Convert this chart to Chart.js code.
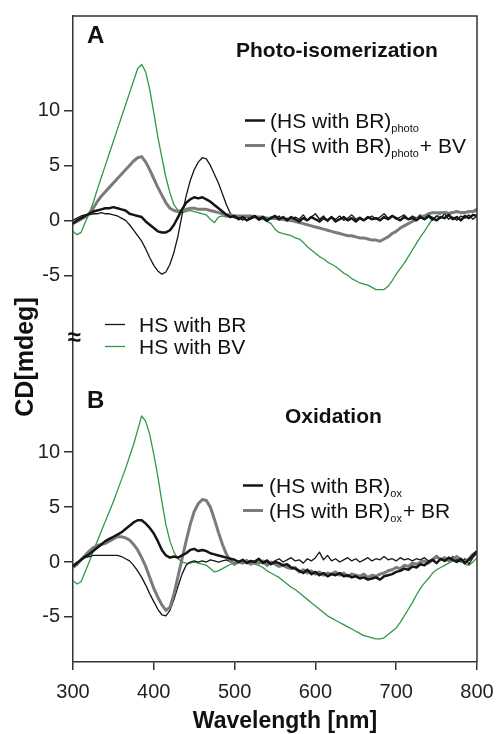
<!DOCTYPE html>
<html>
<head>
<meta charset="utf-8">
<title>CD spectra</title>
<script src="https://cdn.jsdelivr.net/npm/chart.js@4.4.0/dist/chart.umd.min.js"></script>
<style>
  html, body { margin: 0; padding: 0; background: #fff; }
  canvas { display: block; }
</style>
</head>
<body>
<canvas id="cd" width="501" height="734"></canvas>
<script>
(function () {
    "use strict";

    // Wavelength grid [nm]
    const wavelength = [
        300, 305, 310, 315, 320, 325, 330, 335, 340, 345,
        350, 355, 360, 365, 370, 375, 380, 385, 390, 395,
        400, 405, 410, 415, 420, 425, 430, 435, 440, 445,
        450, 455, 460, 465, 470, 475, 480, 485, 490, 495,
        500, 505, 510, 515, 520, 525, 530, 535, 540, 545,
        550, 555, 560, 565, 570, 575, 580, 585, 590, 595,
        600, 605, 610, 615, 620, 625, 630, 635, 640, 645,
        650, 655, 660, 665, 670, 675, 680, 685, 690, 695,
        700, 705, 710, 715, 720, 725, 730, 735, 740, 745,
        750, 755, 760, 765, 770, 775, 780, 785, 790, 795,
        800
    ];

    // Panel A - photo-isomerization
    const hsBR_A = [
        0.0, 0.2, 0.4, 0.5, 0.5, 0.6, 0.6, 0.7, 0.6, 0.6,
        0.5, 0.4, 0.2, 0.0, -0.4, -0.9, -1.4, -1.9, -2.6, -3.4,
        -4.1, -4.6, -4.9, -4.7, -4.0, -2.9, -1.4, 0.5, 2.2, 3.6,
        4.6, 5.3, 5.7, 5.6, 5.0, 4.2, 3.4, 2.4, 1.4, 0.6,
        0.2, 0.3, 0.0, 0.4, 0.1, 0.3, 0.0, 0.2, -0.1, 0.3,
        0.1, 0.4, 0.0, 0.2, -0.1, 0.3, 0.1, 0.5, 0.0, 0.3,
        0.6, 0.1, 0.4, -0.1, 0.3, 0.1, 0.4, 0.0, 0.2, 0.5,
        0.1, 0.3, 0.0, 0.2, 0.4, 0.1, 0.3, 0.6, 0.2, 0.4,
        0.1, 0.3, 0.5, 0.1, 0.4, 0.2, 0.5, 0.1, 0.3, 0.0,
        0.4, 0.2, 0.6, 0.1, 0.3, 0.0, 0.4, 0.2, 0.5, 0.1,
        0.4
    ];
    const hsBV_A = [
        -1.0, -1.3, -1.1, -0.2, 0.6, 1.6, 2.8, 3.9, 5.0, 6.1,
        7.2, 8.3, 9.4, 10.5, 11.6, 12.7, 13.8, 14.2, 13.5, 11.9,
        9.8, 7.6, 5.7, 3.9, 2.5, 1.4, 0.9, 0.7, 0.8, 0.9,
        0.8, 0.7, 0.6, 0.5, 0.1, -0.2, 0.3, 0.4, 0.3, 0.4,
        0.3, 0.4, 0.3, 0.3, 0.2, 0.3, 0.2, 0.1, -0.1, -0.3,
        -0.8, -1.1, -1.2, -1.3, -1.4, -1.6, -1.7, -2.0, -2.4, -2.7,
        -3.0, -3.3, -3.5, -3.8, -4.0, -4.2, -4.5, -4.8, -5.0, -5.3,
        -5.5, -5.7, -5.8, -5.9, -6.1, -6.3, -6.3, -6.3, -6.0, -5.5,
        -4.9, -4.4, -3.9, -3.3, -2.7, -2.1, -1.5, -1.0, -0.4, 0.1,
        0.4, 0.6, 0.8, 0.7, 0.8, 0.7, 0.8, 0.8, 0.7, 0.9,
        1.1
    ];
    const brPhoto = [
        -0.3, 0.0, 0.2, 0.4, 0.6, 0.8, 0.9, 1.0, 1.1, 1.1,
        1.2, 1.1, 1.0, 0.9, 0.6, 0.5, 0.4, 0.3, -0.1, -0.4,
        -0.7, -1.0, -1.1, -1.1, -0.9, -0.4, 0.3, 1.0, 1.6, 1.9,
        2.1, 2.0, 2.1, 1.9, 1.7, 1.4, 1.1, 0.8, 0.5, 0.3,
        0.4, 0.1, 0.3, 0.0, 0.2, 0.4, 0.1, 0.3, 0.0, 0.2,
        0.4, 0.1, 0.3, 0.0, 0.3, 0.1, -0.1, 0.2, 0.0, 0.3,
        0.1, -0.1, 0.2, 0.0, 0.3, -0.1, 0.1, 0.3, 0.0, 0.2,
        -0.1, 0.2, 0.0, 0.3, 0.1, 0.2, 0.0, 0.3, 0.1, 0.4,
        0.2, 0.0, 0.3, 0.1, 0.2, 0.0, 0.3, 0.1, 0.4, 0.2,
        0.0, 0.3, 0.2, 0.5, 0.1, 0.3, 0.0, 0.4, 0.2, 0.5,
        0.4
    ];
    const brPhotoBV = [
        -0.3, -0.1, 0.1, 0.3, 0.6, 1.1, 1.7, 2.2, 2.6, 3.0,
        3.4, 3.8, 4.2, 4.6, 5.0, 5.4, 5.7, 5.8, 5.3, 4.6,
        3.8, 3.0, 2.3, 1.6, 1.1, 0.9, 0.8, 0.9, 1.0, 1.1,
        1.1, 1.0, 1.0, 1.0, 0.9, 0.8, 0.7, 0.6, 0.5, 0.5,
        0.4, 0.4, 0.4, 0.4, 0.4, 0.3, 0.3, 0.3, 0.2, 0.2,
        0.2, 0.1, 0.1, 0.0, 0.0, -0.1, -0.2, -0.3, -0.4, -0.5,
        -0.6, -0.7, -0.8, -0.9, -1.0, -1.1, -1.2, -1.3, -1.4, -1.4,
        -1.5, -1.6, -1.6, -1.7, -1.8, -1.8, -1.9, -1.7, -1.5, -1.2,
        -1.0, -0.7, -0.5, -0.3, -0.1, 0.1, 0.3, 0.4, 0.6, 0.7,
        0.7, 0.7, 0.7, 0.6, 0.7, 0.8, 0.7, 0.7, 0.8, 0.8,
        0.9
    ];

    // Panel B - oxidation
    const hsBR_B = [
        -0.3, 0.0, 0.2, 0.4, 0.5, 0.6, 0.6, 0.6, 0.6, 0.6,
        0.6, 0.6, 0.5, 0.3, 0.1, -0.3, -0.8, -1.4, -2.1, -2.9,
        -3.6, -4.3, -4.8, -4.9, -4.4, -3.4, -2.2, -1.1, -0.3, 0.0,
        0.1, 0.0, 0.1, 0.0, 0.2, 0.1, 0.0, 0.1, 0.2, 0.0,
        -0.1, 0.1, 0.0, 0.2, -0.1, 0.1, 0.3, 0.0, 0.2, -0.1,
        0.1, 0.3, 0.0, 0.2, 0.4, 0.1, 0.2, -0.1, 0.3, 0.1,
        0.4, 0.9, 0.2, 0.6, 0.1, 0.3, 0.0, 0.2, 0.4, 0.1,
        0.3, 0.0, 0.2, 0.4, 0.1, 0.3, 0.2, 0.5, 0.2, 0.3,
        0.1, 0.4, 0.2, 0.3, 0.1, 0.3, 0.2, 0.4, 0.1, 0.3,
        0.6, 0.2, 0.4, 0.1, 0.5, 0.2, 0.0, 0.3, -0.2, 0.4,
        0.8
    ];
    const hsBV_B = [
        -1.7, -2.0, -1.8, -0.9, 0.0, 1.0, 1.9, 2.8, 3.7, 4.6,
        5.5, 6.5, 7.5, 8.5, 9.6, 10.7, 12.0, 13.3, 12.8, 11.6,
        9.8, 7.8, 5.5, 3.4, 1.9, 0.9, 0.3, 0.0, -0.1, -0.1,
        0.0, -0.1, -0.2, -0.3, -0.6, -0.9, -0.8, -0.6, -0.4, -0.2,
        -0.1, 0.0, -0.1, 0.0, -0.1, -0.2, -0.3, -0.5, -0.8, -1.0,
        -1.2, -1.4, -1.7, -2.0, -2.3, -2.5, -2.8, -3.1, -3.4, -3.7,
        -4.0, -4.3, -4.6, -4.9, -5.1, -5.3, -5.5, -5.7, -5.9, -6.1,
        -6.3, -6.5, -6.7, -6.8, -6.9, -7.0, -7.0, -6.9, -6.6, -6.3,
        -6.0, -5.5, -4.9, -4.3, -3.7, -3.0, -2.4, -1.9, -1.5, -1.0,
        -0.7, -0.5, -0.3, -0.1, 0.1, 0.2, 0.1, -0.2, -0.3, 0.0,
        0.4
    ];
    const brOx = [
        -0.4, -0.1, 0.2, 0.5, 0.7, 1.0, 1.3, 1.6, 1.9, 2.1,
        2.3, 2.5, 2.7, 3.0, 3.3, 3.6, 3.8, 3.8, 3.5, 3.1,
        2.6, 1.9, 1.1, 0.6, 0.4, 0.5, 0.4, 0.6, 0.8, 1.1,
        1.2, 1.0, 1.1, 1.0, 0.8, 0.7, 0.6, 0.5, 0.4, 0.3,
        0.2, 0.0, 0.2, -0.1, 0.1, 0.0, 0.3, -0.1, 0.1, -0.2,
        0.0, -0.1, -0.3, -0.2, -0.5, -0.6, -0.8, -1.0, -0.7, -1.1,
        -0.9, -1.2, -1.0, -1.3, -1.1, -1.2, -1.0, -1.3, -1.2, -1.4,
        -1.3, -1.5, -1.4, -1.6, -1.5, -1.4, -1.6, -1.3, -1.2, -1.1,
        -0.9, -0.8, -0.6, -0.7, -0.4, -0.5, -0.2, -0.3, 0.0, 0.2,
        -0.1, 0.3, 0.1, 0.4, 0.2, 0.0, 0.3, -0.1, 0.2, 0.6,
        1.0
    ];
    const brOxBR = [
        -0.5, -0.2, 0.2, 0.6, 1.0, 1.3, 1.5, 1.6, 1.7, 1.9,
        2.1, 2.3, 2.3, 2.2, 2.0, 1.6, 1.1, 0.4, -0.4, -1.4,
        -2.4, -3.2, -3.9, -4.4, -4.1, -2.9, -1.3, 0.3, 1.9, 3.4,
        4.6, 5.3, 5.7, 5.6, 5.0, 3.9, 2.7, 1.6, 0.7, 0.1,
        -0.2, 0.0, -0.1, 0.1, -0.2, 0.0, -0.1, 0.1, -0.3, 0.0,
        -0.2, -0.4, -0.3, -0.5, -0.6, -0.5, -0.9, -0.7, -1.0, -0.8,
        -1.1, -0.9, -1.2, -1.0, -1.1, -0.9, -1.2, -1.0, -1.3, -1.1,
        -1.2, -1.3, -1.1, -1.4, -1.2, -1.3, -1.1, -1.0, -0.8, -0.7,
        -0.5, -0.6, -0.3, -0.4, -0.1, -0.2, 0.0, 0.1, -0.1, 0.2,
        0.5, 0.2, 0.4, 0.1, 0.3, 0.5, 0.2, 0.0, 0.3, 0.7,
        0.9
    ];

    const xTicks = [300, 400, 500, 600, 700, 800];
    const yTicks = [-5, 0, 5, 10];

    const GREEN = '#2f9a45';
    const GREY = '#7b7b7b';
    const BLACK = '#151515';
    const FONT = '"Liberation Sans", Arial, sans-serif';

    const pts = (ys) => wavelength.map((x, i) => ({ x: x, y: ys[i] }));

    const line = (data, axis, color, width) => ({
        data: pts(data),
        yAxisID: axis,
        borderColor: color,
        borderWidth: width,
        pointRadius: 0,
        tension: 0,
        borderJoinStyle: 'round',
        fill: false
    });

    const yScale = (min, max, weight) => ({
        type: 'linear',
        position: 'left',
        stack: 'cd',
        stackWeight: 1,
        weight: weight,
        min: min,
        max: max,
        afterBuildTicks: (s) => { s.ticks = yTicks.map(v => ({ value: v })); },
        afterFit: (s) => { s.width = 73; },
        ticks: { font: { size: 20, family: FONT }, color: '#222', padding: 4 },
        grid: { display: true, drawOnChartArea: false, drawTicks: true, tickLength: 9, color: '#333', lineWidth: 1.5 },
        border: { display: true, color: '#333', width: 1.5 }
    });

    // text with a subscript part
    const richText = (ctx, x, y, parts) => {
        let tx = x;
        parts.forEach(p => {
            ctx.font = (p.sub ? '11px ' : '21px ') + FONT;
            ctx.fillText(p.t, tx, p.sub ? y + 4 : y);
            tx += ctx.measureText(p.t).width + (p.sub ? 1 : 0);
        });
    };

    const legendEntry = (ctx, x0, x1, tx, y, color, width, parts) => {
        ctx.strokeStyle = color;
        ctx.lineWidth = width;
        ctx.beginPath();
        ctx.moveTo(x0, y - 7.5);
        ctx.lineTo(x1, y - 7.5);
        ctx.stroke();
        richText(ctx, tx, y, parts);
    };

    const overlay = {
        id: 'overlay',
        afterDraw(chart) {
            const ctx = chart.ctx;
            const { left, right, top, bottom } = chart.chartArea;
            ctx.save();

            // top and right frame
            ctx.strokeStyle = '#333';
            ctx.lineWidth = 1.5;
            ctx.beginPath();
            ctx.moveTo(left, top);
            ctx.lineTo(right, top);
            ctx.lineTo(right, bottom);
            ctx.stroke();

            ctx.fillStyle = '#111';

            // axis break
            ctx.font = 'bold 24px ' + FONT;
            ctx.textAlign = 'center';
            ctx.textBaseline = 'middle';
            ctx.fillText('\u2248', left + 1, chart.scales.yA.bottom - 1);
            ctx.textAlign = 'left';
            ctx.textBaseline = 'alphabetic';

            // panel labels
            ctx.font = 'bold 24px ' + FONT;
            ctx.fillText('A', 87, 43);
            ctx.fillText('B', 87, 408);
            ctx.font = 'bold 21px ' + FONT;
            ctx.fillText('Photo-isomerization', 236, 57);
            ctx.fillText('Oxidation', 285, 423);

            // legends
            legendEntry(ctx, 245, 265, 270, 128, BLACK, 2.5,
                [{ t: '(HS with BR)' }, { t: 'photo', sub: true }]);
            legendEntry(ctx, 245, 265, 270, 153, GREY, 3,
                [{ t: '(HS with BR)' }, { t: 'photo', sub: true }, { t: '+ BV' }]);
            legendEntry(ctx, 105, 125, 139, 332, BLACK, 1.3, [{ t: 'HS with BR' }]);
            legendEntry(ctx, 105, 125, 139, 354, GREEN, 1.3, [{ t: 'HS with BV' }]);
            legendEntry(ctx, 243, 263, 269, 493, BLACK, 2.5,
                [{ t: '(HS with BR)' }, { t: 'ox', sub: true }]);
            legendEntry(ctx, 243, 263, 269, 518, GREY, 3,
                [{ t: '(HS with BR)' }, { t: 'ox', sub: true }, { t: '+ BR' }]);

            // axis titles
            ctx.font = 'bold 23px ' + FONT;
            ctx.textAlign = 'center';
            ctx.fillText('Wavelength [nm]', 285, 728);

            ctx.translate(33, 357);
            ctx.rotate(-Math.PI / 2);
            ctx.font = 'bold 25px ' + FONT;
            ctx.fillText('CD[mdeg]', 0, 0);

            ctx.restore();
        }
    };

    new Chart(document.getElementById('cd').getContext('2d'), {
        type: 'line',
        data: {
            datasets: [
                line(brPhoto, 'yA', BLACK, 2.5),
                line(brPhotoBV, 'yA', GREY, 3),
                line(hsBR_A, 'yA', BLACK, 1.3),
                line(hsBV_A, 'yA', GREEN, 1.3),
                line(brOx, 'yB', BLACK, 2.5),
                line(brOxBR, 'yB', GREY, 3),
                line(hsBR_B, 'yB', BLACK, 1.3),
                line(hsBV_B, 'yB', GREEN, 1.3)
            ]
        },
        options: {
            responsive: false,
            animation: false,
            layout: { padding: { top: 14, right: 24, left: 0, bottom: 0 } },
            plugins: { legend: { display: false }, tooltip: { enabled: false } },
            scales: {
                x: {
                    type: 'linear',
                    min: 300,
                    max: 800,
                    afterBuildTicks: (s) => { s.ticks = xTicks.map(v => ({ value: v })); },
                    afterFit: (s) => { s.height = 72; s.paddingLeft = 0; s.paddingRight = 0; },
                    ticks: { font: { size: 20, family: FONT }, color: '#222', padding: 10, maxRotation: 0 },
                    grid: { display: true, drawOnChartArea: false, drawTicks: true, tickLength: 8, color: '#333', lineWidth: 1.5 },
                    border: { display: true, color: '#333', width: 1.5 }
                },
                yB: yScale(-9.1, 20.3, 0),
                yA: yScale(-10.8, 18.6, 1)
            }
        },
        plugins: [overlay]
    });
})();
</script>
</body>
</html>
